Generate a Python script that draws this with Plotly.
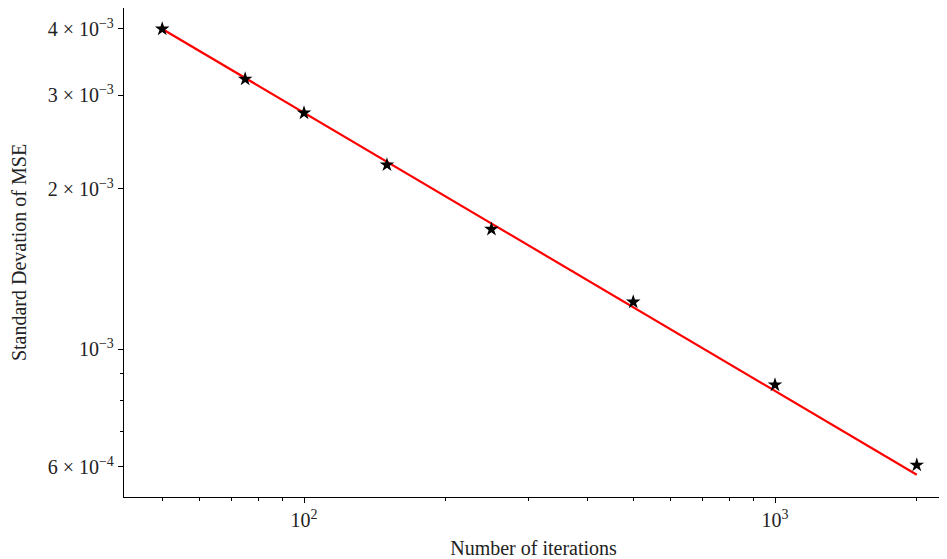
import plotly.graph_objects as go

iterations = [50, 75, 100, 150, 250, 500, 1000, 2000]
std_mse = [4.0e-3, 3.22e-3, 2.78e-3, 2.22e-3, 1.68e-3, 1.226e-3, 8.56e-4, 6.05e-4]
fit_x = [50, 2000]
fit_y = [4.0e-3, 5.8e-4]

y_tick_vals = [6e-4, 1e-3, 2e-3, 3e-3, 4e-3]
y_tick_text = ["6 × 10<sup>−4</sup>", "10<sup>−3</sup>", "2 × 10<sup>−3</sup>",
               "3 × 10<sup>−3</sup>", "4 × 10<sup>−3</sup>"]
y_minor_vals = [7e-4, 8e-4, 9e-4]
x_tick_vals = [100, 1000]
x_tick_text = ["10<sup>2</sup>", "10<sup>3</sup>"]
x_minor_vals = [50, 60, 70, 80, 90, 200, 300, 400, 500, 600, 700, 800, 900, 2000]

font = "Liberation Serif"
txt = "#222"

fig = go.Figure()
fig.add_trace(go.Scatter(x=fit_x, y=fit_y, mode="lines",
                         line=dict(color="red", width=2.2), showlegend=False))
fig.add_trace(go.Scatter(x=iterations, y=std_mse, mode="markers",
                         marker=dict(symbol="star", size=11, color="black",
                                     line=dict(width=0)), showlegend=False))

axis_common = dict(showline=True, linecolor="black", linewidth=1.3, mirror=True,
                   ticks="outside", ticklen=5, tickwidth=1, tickcolor="black",
                   showgrid=False, zeroline=False, automargin=False,
                   tickfont=dict(family=font, size=20, color=txt))

fig.update_xaxes(type="log", range=[1.6178, 3.3567], tickmode="array",
                 tickvals=x_tick_vals, ticktext=x_tick_text,
                 minor=dict(tickmode="array", tickvals=x_minor_vals, ticks="outside",
                            ticklen=3, tickwidth=0.8, tickcolor="black", showgrid=False),
                 title=dict(text="Number of iterations", font=dict(family=font, size=20, color=txt),
                            standoff=15),
                 **axis_common)
fig.update_yaxes(type="log", range=[-3.2784, -2.3585], tickmode="array",
                 tickvals=y_tick_vals, ticktext=y_tick_text,
                 minor=dict(tickmode="array", tickvals=y_minor_vals, ticks="outside",
                            ticklen=3, tickwidth=0.8, tickcolor="black", showgrid=False),
                 title=dict(text="Standard Devation of MSE", font=dict(family=font, size=20, color=txt),
                            standoff=15),
                 **axis_common)

fig.update_layout(width=939, height=551, margin=dict(l=116, r=4, t=0, b=62),
                  plot_bgcolor="white", paper_bgcolor="white",
                  font=dict(family=font, size=20, color=txt))

fig.write_html("out.html")
